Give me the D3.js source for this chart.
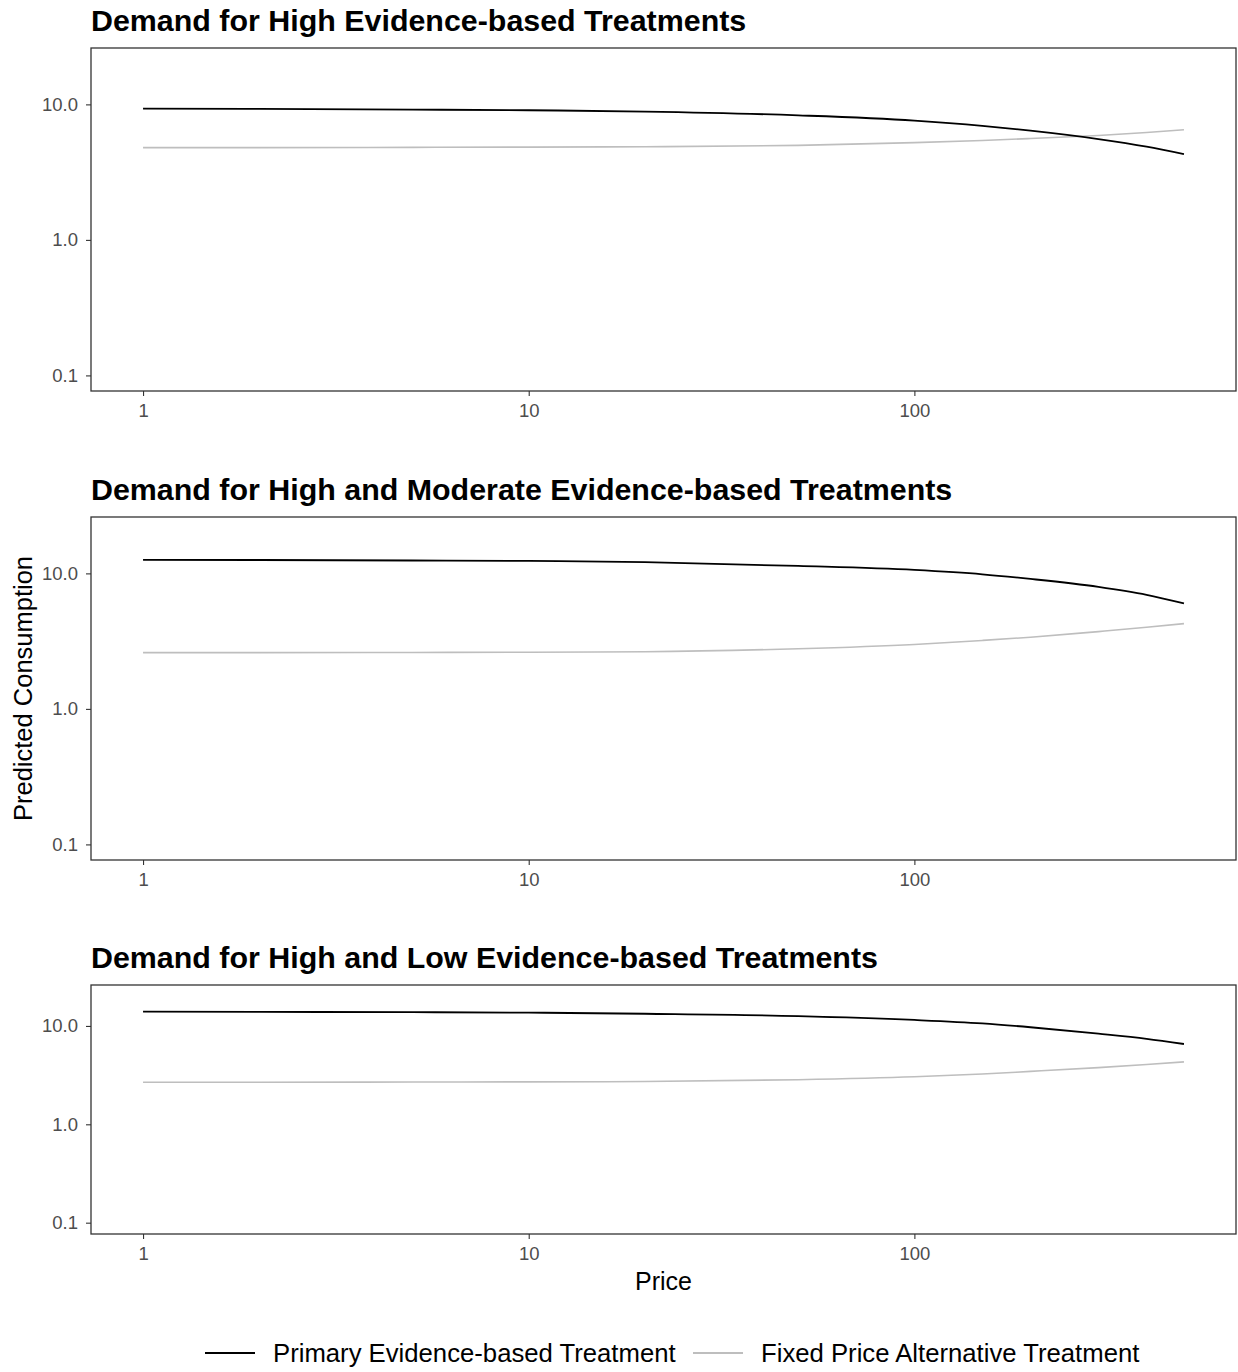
<!DOCTYPE html>
<html>
<head>
<meta charset="utf-8">
<script src="https://cdn.jsdelivr.net/npm/d3@7.9.0/dist/d3.min.js"></script>
<style>
  body { margin: 0; background: #fff; }
  svg { font-family: "Liberation Sans", Arial, sans-serif; }
</style>
</head>
<body>
<svg id="chart" width="1238" height="1372"></svg>
<script>
// prices on the x axis
const prices = [1, 2, 5, 10, 20, 50, 100, 150, 200, 300, 400, 500];

// panel 1: high evidence
const highPrimary = [9.3, 9.25, 9.15, 9.05, 8.85, 8.3, 7.6, 6.95, 6.4, 5.55, 4.88, 4.3];
const highAlt     = [4.8, 4.8, 4.82, 4.84, 4.87, 4.98, 5.22, 5.42, 5.6, 5.9, 6.2, 6.5];

// panel 2: high and moderate evidence
const modPrimary = [12.6, 12.55, 12.45, 12.35, 12.1, 11.35, 10.6, 9.85, 9.1, 7.95, 6.95, 6.0];
const modAlt     = [2.6, 2.6, 2.61, 2.62, 2.64, 2.78, 2.99, 3.2, 3.38, 3.72, 4.0, 4.26];

// panel 3: high and low evidence
const lowPrimary = [14.0, 13.9, 13.8, 13.65, 13.3, 12.6, 11.5, 10.6, 9.7, 8.35, 7.4, 6.55];
const lowAlt     = [2.68, 2.68, 2.69, 2.7, 2.72, 2.84, 3.04, 3.25, 3.45, 3.77, 4.05, 4.31];

const panelTitles = [
  "Demand for High Evidence-based Treatments",
  "Demand for High and Moderate Evidence-based Treatments",
  "Demand for High and Low Evidence-based Treatments"
];
const xTicks = [1, 10, 100];
const yTicks = [0.1, 1, 10];
const seriesNames = ["Primary Evidence-based Treatment", "Fixed Price Alternative Treatment"];
const seriesColors = ["#000000", "#bebebe"];

const panels = [
  { title: panelTitles[0], primary: highPrimary, alt: highAlt, top: 48, bottom: 391 },
  { title: panelTitles[1], primary: modPrimary, alt: modAlt, top: 517, bottom: 860 },
  { title: panelTitles[2], primary: lowPrimary, alt: lowAlt, top: 985, bottom: 1234 }
];

const svg = d3.select("#chart");
const left = 91, right = 1236;

// log scales with 5% expansion like ggplot
function expandLog(lo, hi) {
  const a = Math.log10(lo), b = Math.log10(hi), e = (b - a) * 0.05;
  return [Math.pow(10, a - e), Math.pow(10, b + e)];
}
const x = d3.scaleLog().domain(expandLog(1, 500)).range([left, right]);

panels.forEach(p => {
  const y = d3.scaleLog().domain(expandLog(0.1, 20)).range([p.bottom, p.top]);
  const g = svg.append("g");

  // title
  g.append("text")
    .attr("x", left)
    .attr("y", p.top - 17)
    .attr("font-size", 30.4)
    .attr("font-weight", "bold")
    .attr("fill", "#000")
    .text(p.title);

  // x axis
  const xa = g.append("g")
    .attr("transform", `translate(0,${p.bottom})`)
    .call(d3.axisBottom(x).tickValues(xTicks).tickFormat(d3.format("d")).tickSize(5).tickPadding(8));
  xa.select(".domain").remove();
  xa.selectAll("line").attr("stroke", "#333").attr("stroke-width", 1.1);
  xa.selectAll("text").attr("fill", "#4d4d4d").attr("font-size", 18.5).attr("font-family", null);

  // y axis
  const ya = g.append("g")
    .attr("transform", `translate(${left},0)`)
    .call(d3.axisLeft(y).tickValues(yTicks).tickFormat(d3.format(".1f")).tickSize(5).tickPadding(8));
  ya.select(".domain").remove();
  ya.selectAll("line").attr("stroke", "#333").attr("stroke-width", 1.1);
  ya.selectAll("text").attr("fill", "#4d4d4d").attr("font-size", 18.5).attr("font-family", null);

  // lines
  const line = d3.line()
    .x((d, i) => x(prices[i]))
    .y(d => y(d))
    .curve(d3.curveMonotoneX);

  g.append("path").datum(p.alt)
    .attr("d", line)
    .attr("fill", "none")
    .attr("stroke", seriesColors[1])
    .attr("stroke-width", 1.6);

  g.append("path").datum(p.primary)
    .attr("d", line)
    .attr("fill", "none")
    .attr("stroke", seriesColors[0])
    .attr("stroke-width", 1.8);

  // panel border
  g.append("rect")
    .attr("x", left).attr("y", p.top)
    .attr("width", right - left).attr("height", p.bottom - p.top)
    .attr("fill", "none")
    .attr("stroke", "#333")
    .attr("stroke-width", 1.3);
});

// axis titles
svg.append("text")
  .attr("x", (left + right) / 2)
  .attr("y", 1290)
  .attr("text-anchor", "middle")
  .attr("font-size", 25)
  .text("Price");

svg.append("text")
  .attr("transform", `translate(32,${(panels[1].top + panels[1].bottom) / 2}) rotate(-90)`)
  .attr("text-anchor", "middle")
  .attr("font-size", 25.5)
  .text("Predicted Consumption");

// legend
const legendX = [205, 693];
seriesNames.forEach((name, i) => {
  const lg = svg.append("g").attr("transform", `translate(${legendX[i]},1353)`);
  lg.append("line")
    .attr("x1", 0).attr("x2", 50)
    .attr("stroke", seriesColors[i])
    .attr("stroke-width", 1.8);
  lg.append("text")
    .attr("x", 68)
    .attr("y", 9)
    .attr("font-size", 25.7)
    .text(name);
});
</script>
</body>
</html>
